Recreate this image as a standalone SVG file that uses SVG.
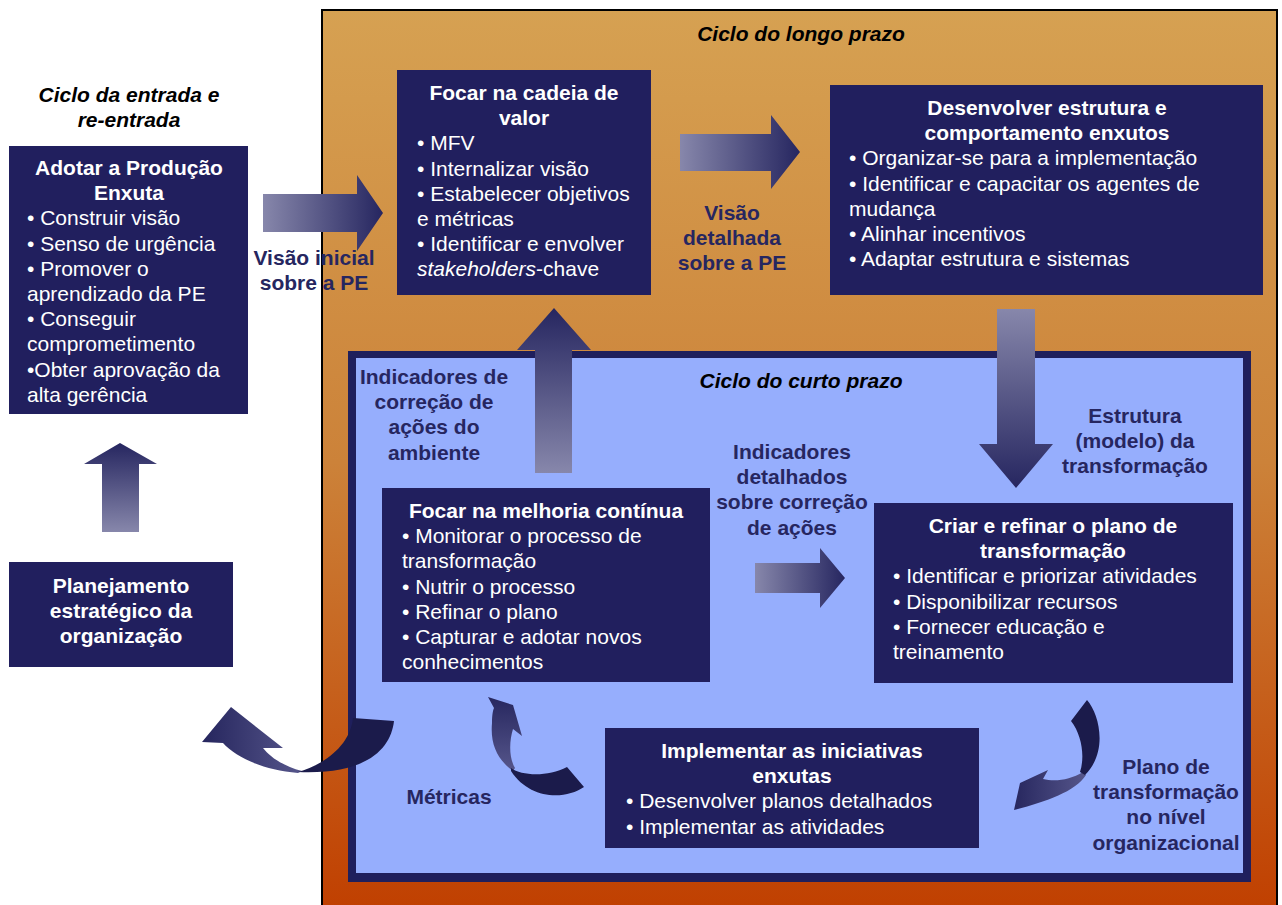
<svg xmlns="http://www.w3.org/2000/svg" width="1282" height="905" viewBox="0 0 1282 905">
<defs>
<style>
.box{fill:#211f5e}
.t{font-family:"Liberation Sans",Arial,sans-serif;font-size:21px}
.ttl{font-weight:bold;fill:#ffffff;text-anchor:middle}
.body{fill:#ffffff}
.lbl{font-weight:bold;fill:#262660;text-anchor:middle}
.cyc{font-weight:bold;font-style:italic;fill:#000000;text-anchor:middle}
.dark{fill:#1b1b4b}
</style>
<linearGradient id="orange" x1="0" y1="0" x2="0" y2="1">
<stop offset="0" stop-color="#d6a152"/>
<stop offset="0.5" stop-color="#cc8239"/>
<stop offset="1" stop-color="#c03f00"/>
</linearGradient>
<linearGradient id="gR" x1="0" y1="0" x2="1" y2="0">
<stop offset="0" stop-color="#8787ab"/>
<stop offset="1" stop-color="#262660"/>
</linearGradient>
<linearGradient id="gD" x1="0" y1="0" x2="0" y2="1">
<stop offset="0" stop-color="#8787ab"/>
<stop offset="1" stop-color="#262660"/>
</linearGradient>
<linearGradient id="gU" x1="0" y1="1" x2="0" y2="0">
<stop offset="0" stop-color="#8787ab"/>
<stop offset="1" stop-color="#262660"/>
</linearGradient>
<linearGradient id="cA" gradientUnits="userSpaceOnUse" x1="205" y1="0" x2="300" y2="0">
<stop offset="0" stop-color="#27275f"/>
<stop offset="1" stop-color="#55558a"/>
</linearGradient>
<linearGradient id="cB" gradientUnits="userSpaceOnUse" x1="0" y1="697" x2="0" y2="770">
<stop offset="0" stop-color="#27275f"/>
<stop offset="1" stop-color="#55558a"/>
</linearGradient>
<linearGradient id="cC" gradientUnits="userSpaceOnUse" x1="1014" y1="0" x2="1085" y2="0">
<stop offset="0" stop-color="#27275f"/>
<stop offset="1" stop-color="#55558a"/>
</linearGradient>
</defs>
<rect width="1282" height="905" fill="#ffffff"/>

<g id="ciclo-longo-prazo">
<rect x="322" y="10" width="955" height="905" fill="url(#orange)" stroke="#000" stroke-width="2"/>
<text class="t cyc" x="801" y="41">Ciclo do longo prazo</text>
</g>

<g id="ciclo-curto-prazo">
<rect x="348" y="351" width="903" height="531" fill="#1f1f5c"/>
<rect x="356" y="358" width="887" height="515" fill="#96aefd"/>
<text class="t cyc" x="801" y="388">Ciclo do curto prazo</text>
</g>

<g id="ciclo-entrada">
<text class="t cyc" x="129" y="102">Ciclo da entrada e<tspan x="129" dy="25">re-entrada</tspan></text>
</g>

<g id="adotar">
<rect class="box" x="9" y="146" width="239" height="268"/>
<text class="t ttl" x="129" y="175">Adotar a Produção<tspan x="129" dy="25.2">Enxuta</tspan></text>
<text class="t body" x="27" y="225.4">• Construir visão<tspan x="27" dy="25.2">• Senso de urgência</tspan><tspan x="27" dy="25.2">• Promover o</tspan><tspan x="27" dy="25.2">aprendizado da PE</tspan><tspan x="27" dy="25.2">• Conseguir</tspan><tspan x="27" dy="25.2">comprometimento</tspan><tspan x="27" dy="25.2">•Obter aprovação da</tspan><tspan x="27" dy="25.2">alta gerência</tspan></text>
</g>

<g id="planejamento">
<rect class="box" x="9" y="562" width="224" height="105"/>
<text class="t ttl" x="121" y="593">Planejamento<tspan x="121" dy="25.2">estratégico da</tspan><tspan x="121" dy="25.2">organização</tspan></text>
</g>

<g id="focar-cadeia">
<rect class="box" x="397" y="70" width="254" height="225"/>
<text class="t ttl" x="524" y="100">Focar na cadeia de<tspan x="524" dy="25.2">valor</tspan></text>
<text class="t body" x="417" y="150.4">• MFV<tspan x="417" dy="25.2">• Internalizar visão</tspan><tspan x="417" dy="25.2">• Estabelecer objetivos</tspan><tspan x="417" dy="25.2">e métricas</tspan><tspan x="417" dy="25.2">• Identificar e envolver</tspan><tspan x="417" dy="25.2" font-style="italic">stakeholders</tspan><tspan>-chave</tspan></text>
</g>

<g id="desenvolver">
<rect class="box" x="830" y="85" width="433" height="210"/>
<text class="t ttl" x="1047" y="115">Desenvolver estrutura e<tspan x="1047" dy="25.2">comportamento enxutos</tspan></text>
<text class="t body" x="849" y="165.4">• Organizar-se para a implementação<tspan x="849" dy="25.2">• Identificar e capacitar os agentes de</tspan><tspan x="849" dy="25.2">mudança</tspan><tspan x="849" dy="25.2">• Alinhar incentivos</tspan><tspan x="849" dy="25.2">• Adaptar estrutura e sistemas</tspan></text>
</g>

<g id="focar-melhoria">
<rect class="box" x="382" y="488" width="328" height="194"/>
<text class="t ttl" x="546" y="518">Focar na melhoria contínua</text>
<text class="t body" x="402" y="543.2">• Monitorar o processo de<tspan x="402" dy="25.2">transformação</tspan><tspan x="402" dy="25.2">• Nutrir o processo</tspan><tspan x="402" dy="25.2">• Refinar o plano</tspan><tspan x="402" dy="25.2">• Capturar e adotar novos</tspan><tspan x="402" dy="25.2">conhecimentos</tspan></text>
</g>

<g id="criar-plano">
<rect class="box" x="874" y="503" width="359" height="180"/>
<text class="t ttl" x="1053" y="533">Criar e refinar o plano de<tspan x="1053" dy="25.2">transformação</tspan></text>
<text class="t body" x="893" y="583.4">• Identificar e priorizar atividades<tspan x="893" dy="25.2">• Disponibilizar recursos</tspan><tspan x="893" dy="25.2">• Fornecer educação e</tspan><tspan x="893" dy="25.2">treinamento</tspan></text>
</g>

<g id="implementar">
<rect class="box" x="605" y="728" width="374" height="120"/>
<text class="t ttl" x="792" y="758">Implementar as iniciativas<tspan x="792" dy="25.2">enxutas</tspan></text>
<text class="t body" x="626" y="808.4">• Desenvolver planos detalhados<tspan x="626" dy="25.2">• Implementar as atividades</tspan></text>
</g>

<g id="connectors">
<polygon fill="url(#gR)" points="263,194 357,194 357,175 383,213 357,251 357,232 263,232"/>
<polygon fill="url(#gR)" points="680,134 771,134 771,115 800,152 771,189 771,171 680,171"/>
<polygon fill="url(#gD)" points="997,309 1035,309 1035,444 1053,444 1016,488 979,444 997,444"/>
<polygon fill="url(#gU)" points="535,473 572,473 572,350 591,350 554,308 517,350 535,350"/>
<polygon fill="url(#gR)" points="755,563 820,563 820,548 845,578 820,608 820,593 755,593"/>
<polygon fill="url(#gU)" points="102,532 139,532 139,464 157,464 120,443 84,464 102,464"/>
<path fill="url(#cA)" d="M223,743 L202,742 L231,707 L283,748 L263,748 C270,757 283,766 302,771 L298,773 C262,770 236,757 223,743 Z"/>
<path class="dark" d="M353,718 L394,721 C391,748 368,775 298,772 C320,766 350,748 353,718 Z"/>
<path fill="url(#cB)" d="M488,697 L513,705 L522,736 L513,729 C509,742 509,758 515,768 L513,771 C498,760 490,745 492,723 C492,715 493,710 494,708 Z"/>
<path class="dark" d="M511,768 C522,776 548,777 567,767 L584,787 C565,800 530,800 511,771 Z"/>
<path fill="url(#cC)" d="M1014,810 L1020,783 L1048,770 L1043,779 C1055,782 1070,780 1083,772 L1086,775 C1075,792 1045,802 1014,810 Z"/>
<path class="dark" d="M1071,721 L1087,700 C1100,715 1108,752 1085,775 L1080,772 C1085,757 1082,735 1071,721 Z"/>
</g>

<g id="labels">
<text class="t lbl" x="314" y="265">Visão inicial<tspan x="314" dy="25.2">sobre a PE</tspan></text>
<text class="t lbl" x="732" y="220">Visão<tspan x="732" dy="25.2">detalhada</tspan><tspan x="732" dy="25.2">sobre a PE</tspan></text>
<text class="t lbl" x="434" y="384">Indicadores de<tspan x="434" dy="25.2">correção de</tspan><tspan x="434" dy="25.2">ações do</tspan><tspan x="434" dy="25.2">ambiente</tspan></text>
<text class="t lbl" x="792" y="459">Indicadores<tspan x="792" dy="25.2">detalhados</tspan><tspan x="792" dy="25.2">sobre correção</tspan><tspan x="792" dy="25.2">de ações</tspan></text>
<text class="t lbl" x="1135" y="423">Estrutura<tspan x="1135" dy="25.2">(modelo) da</tspan><tspan x="1135" dy="25.2">transformação</tspan></text>
<text class="t lbl" x="449" y="804">Métricas</text>
<text class="t lbl" x="1166" y="774">Plano de<tspan x="1166" dy="25.2">transformação</tspan><tspan x="1166" dy="25.2">no nível</tspan><tspan x="1166" dy="25.2">organizacional</tspan></text>
</g>
</svg>
